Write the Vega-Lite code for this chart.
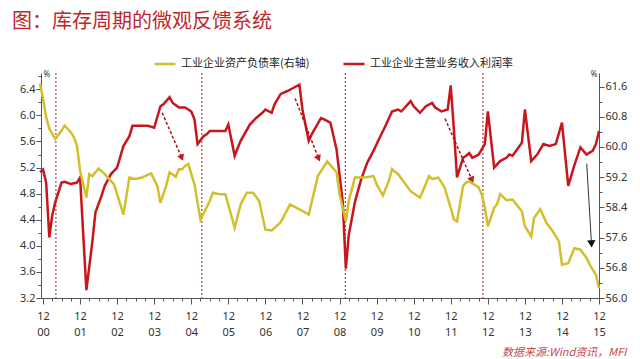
{
  "$schema": "https://vega.github.io/schema/vega-lite/v6.json",
  "width": 558,
  "height": 225,
  "autosize": {"type": "none"},
  "padding": {"left": 41, "top": 73, "right": 41, "bottom": 61},
  "background": "white",
  "config": {
    "view": {"stroke": null},
    "font": "Noto Sans",
    "axis": {"grid": false, "domainColor": "#555", "tickColor": "#555", "labelColor": "#333", "labelFontSize": 11, "labelFont": "Noto Sans", "domainWidth": 1, "labelOverlap": false}
  },
  "title": {"text": "图：库存周期的微观反馈系统", "anchor": "start", "frame": "group", "dx": -29, "offset": 20, "font": "Noto Sans CJK SC", "fontSize": 20, "fontWeight": "normal", "color": "#c0272d"},
  "datasets": {
    "margin": [
      {"date": "2000-11-01", "v": 5.13}, {"date": "2000-12-01", "v": 5.17}, {"date": "2001-01-01", "v": 4.97}, {"date": "2001-02-01", "v": 4.13},
      {"date": "2001-03-01", "v": 4.46}, {"date": "2001-04-01", "v": 4.67}, {"date": "2001-06-01", "v": 4.97}, {"date": "2001-07-01", "v": 4.98},
      {"date": "2001-09-01", "v": 4.95}, {"date": "2001-11-01", "v": 4.97}, {"date": "2001-12-01", "v": 5.05}, {"date": "2002-02-01", "v": 3.32},
      {"date": "2002-04-01", "v": 4.06}, {"date": "2002-05-01", "v": 4.51}, {"date": "2002-07-01", "v": 4.77}, {"date": "2002-08-01", "v": 4.92},
      {"date": "2002-10-01", "v": 5.10}, {"date": "2002-12-01", "v": 5.20}, {"date": "2003-02-01", "v": 5.53}, {"date": "2003-04-01", "v": 5.68},
      {"date": "2003-05-01", "v": 5.84}, {"date": "2003-08-01", "v": 5.84}, {"date": "2003-10-01", "v": 5.84}, {"date": "2003-12-01", "v": 5.81},
      {"date": "2004-02-01", "v": 6.14}, {"date": "2004-03-01", "v": 6.17}, {"date": "2004-05-01", "v": 6.28}, {"date": "2004-06-01", "v": 6.19},
      {"date": "2004-08-01", "v": 6.12}, {"date": "2004-10-01", "v": 6.12}, {"date": "2004-12-01", "v": 6.06}, {"date": "2005-01-01", "v": 5.94},
      {"date": "2005-02-01", "v": 5.56}, {"date": "2005-04-01", "v": 5.68}, {"date": "2005-05-01", "v": 5.71}, {"date": "2005-06-01", "v": 5.76},
      {"date": "2005-08-01", "v": 5.76}, {"date": "2005-11-01", "v": 5.76}, {"date": "2005-12-01", "v": 5.86}, {"date": "2006-02-01", "v": 5.38},
      {"date": "2006-04-01", "v": 5.61}, {"date": "2006-07-01", "v": 5.86}, {"date": "2006-09-01", "v": 5.96}, {"date": "2006-11-01", "v": 6.04},
      {"date": "2006-12-01", "v": 6.09}, {"date": "2007-02-01", "v": 6.04}, {"date": "2007-03-01", "v": 6.17}, {"date": "2007-05-01", "v": 6.33},
      {"date": "2007-07-01", "v": 6.37}, {"date": "2007-09-01", "v": 6.42}, {"date": "2007-11-01", "v": 6.47}, {"date": "2007-12-01", "v": 6.09},
      {"date": "2008-02-01", "v": 5.61}, {"date": "2008-03-01", "v": 5.71}, {"date": "2008-06-01", "v": 5.96}, {"date": "2008-07-01", "v": 5.94},
      {"date": "2008-09-01", "v": 5.89}, {"date": "2008-11-01", "v": 5.48}, {"date": "2009-01-01", "v": 4.67}, {"date": "2009-02-01", "v": 3.65},
      {"date": "2009-03-01", "v": 4.16}, {"date": "2009-05-01", "v": 4.67}, {"date": "2009-07-01", "v": 5.02}, {"date": "2009-09-01", "v": 5.28},
      {"date": "2009-11-01", "v": 5.46}, {"date": "2010-01-01", "v": 5.66}, {"date": "2010-03-01", "v": 5.85}, {"date": "2010-05-01", "v": 6.06},
      {"date": "2010-07-01", "v": 6.09}, {"date": "2010-08-01", "v": 6.06}, {"date": "2010-11-01", "v": 6.22}, {"date": "2010-12-01", "v": 6.14},
      {"date": "2011-02-01", "v": 6.04}, {"date": "2011-04-01", "v": 6.14}, {"date": "2011-06-01", "v": 6.19}, {"date": "2011-07-01", "v": 6.12},
      {"date": "2011-09-01", "v": 6.06}, {"date": "2011-11-01", "v": 6.09}, {"date": "2011-12-01", "v": 6.46}, {"date": "2012-01-01", "v": 5.79},
      {"date": "2012-02-01", "v": 5.05}, {"date": "2012-04-01", "v": 5.35}, {"date": "2012-05-01", "v": 5.38}, {"date": "2012-06-01", "v": 5.42},
      {"date": "2012-07-01", "v": 5.35}, {"date": "2012-09-01", "v": 5.40}, {"date": "2012-11-01", "v": 5.56}, {"date": "2012-12-01", "v": 6.06},
      {"date": "2013-02-01", "v": 5.20}, {"date": "2013-04-01", "v": 5.30}, {"date": "2013-06-01", "v": 5.35}, {"date": "2013-07-01", "v": 5.40},
      {"date": "2013-08-01", "v": 5.38}, {"date": "2013-11-01", "v": 5.58}, {"date": "2013-12-01", "v": 6.09}, {"date": "2014-02-01", "v": 5.30},
      {"date": "2014-04-01", "v": 5.40}, {"date": "2014-06-01", "v": 5.56}, {"date": "2014-08-01", "v": 5.53}, {"date": "2014-10-01", "v": 5.56},
      {"date": "2014-12-01", "v": 5.89}, {"date": "2015-02-01", "v": 4.92}, {"date": "2015-04-01", "v": 5.23}, {"date": "2015-06-01", "v": 5.51},
      {"date": "2015-08-01", "v": 5.40}, {"date": "2015-10-01", "v": 5.46}, {"date": "2015-11-01", "v": 5.56}, {"date": "2015-12-01", "v": 5.76}
    ],
    "ratio": [
      {"date": "2000-11-01", "v": 61.68}, {"date": "2000-12-01", "v": 61.28}, {"date": "2001-01-01", "v": 60.79}, {"date": "2001-02-01", "v": 60.48},
      {"date": "2001-04-01", "v": 60.21}, {"date": "2001-06-01", "v": 60.43}, {"date": "2001-07-01", "v": 60.57}, {"date": "2001-09-01", "v": 60.39},
      {"date": "2001-10-01", "v": 60.26}, {"date": "2001-11-01", "v": 60.03}, {"date": "2001-12-01", "v": 59.37}, {"date": "2002-02-01", "v": 58.66},
      {"date": "2002-03-01", "v": 59.28}, {"date": "2002-04-01", "v": 59.23}, {"date": "2002-06-01", "v": 59.43}, {"date": "2002-08-01", "v": 59.28},
      {"date": "2002-09-01", "v": 59.19}, {"date": "2002-11-01", "v": 59.01}, {"date": "2003-02-01", "v": 58.21}, {"date": "2003-04-01", "v": 59.19},
      {"date": "2003-06-01", "v": 59.15}, {"date": "2003-08-01", "v": 59.19}, {"date": "2003-11-01", "v": 59.30}, {"date": "2004-01-01", "v": 58.97},
      {"date": "2004-02-01", "v": 58.52}, {"date": "2004-04-01", "v": 59.01}, {"date": "2004-05-01", "v": 59.33}, {"date": "2004-07-01", "v": 59.21},
      {"date": "2004-08-01", "v": 59.41}, {"date": "2004-09-01", "v": 59.41}, {"date": "2004-10-01", "v": 59.50}, {"date": "2004-11-01", "v": 59.55},
      {"date": "2005-01-01", "v": 59.01}, {"date": "2005-03-01", "v": 58.08}, {"date": "2005-06-01", "v": 58.57}, {"date": "2005-07-01", "v": 58.79},
      {"date": "2005-09-01", "v": 58.75}, {"date": "2005-11-01", "v": 58.75}, {"date": "2006-01-01", "v": 58.17}, {"date": "2006-02-01", "v": 57.86},
      {"date": "2006-04-01", "v": 58.48}, {"date": "2006-06-01", "v": 58.79}, {"date": "2006-08-01", "v": 58.79}, {"date": "2006-10-01", "v": 58.57},
      {"date": "2006-12-01", "v": 57.81}, {"date": "2007-02-01", "v": 57.79}, {"date": "2007-05-01", "v": 58.01}, {"date": "2007-08-01", "v": 58.48},
      {"date": "2007-11-01", "v": 58.35}, {"date": "2008-02-01", "v": 58.21}, {"date": "2008-05-01", "v": 59.23}, {"date": "2008-08-01", "v": 59.62},
      {"date": "2008-11-01", "v": 59.33}, {"date": "2008-12-01", "v": 58.75}, {"date": "2009-02-01", "v": 58.03}, {"date": "2009-03-01", "v": 58.57},
      {"date": "2009-05-01", "v": 59.19}, {"date": "2009-08-01", "v": 59.19}, {"date": "2009-11-01", "v": 59.23}, {"date": "2009-12-01", "v": 59.01},
      {"date": "2010-02-01", "v": 58.72}, {"date": "2010-04-01", "v": 59.10}, {"date": "2010-05-01", "v": 59.41}, {"date": "2010-07-01", "v": 59.28},
      {"date": "2010-11-01", "v": 58.83}, {"date": "2011-02-01", "v": 58.66}, {"date": "2011-03-01", "v": 58.83}, {"date": "2011-05-01", "v": 59.23},
      {"date": "2011-06-01", "v": 59.15}, {"date": "2011-08-01", "v": 59.19}, {"date": "2011-10-01", "v": 58.93}, {"date": "2011-12-01", "v": 58.39},
      {"date": "2012-01-01", "v": 58.08}, {"date": "2012-02-01", "v": 58.03}, {"date": "2012-04-01", "v": 58.97}, {"date": "2012-05-01", "v": 59.06},
      {"date": "2012-06-01", "v": 59.09}, {"date": "2012-09-01", "v": 58.93}, {"date": "2012-10-01", "v": 58.75}, {"date": "2012-11-01", "v": 58.39},
      {"date": "2012-12-01", "v": 57.90}, {"date": "2013-02-01", "v": 58.39}, {"date": "2013-03-01", "v": 58.48}, {"date": "2013-04-01", "v": 58.75},
      {"date": "2013-06-01", "v": 58.59}, {"date": "2013-08-01", "v": 58.61}, {"date": "2013-11-01", "v": 58.30}, {"date": "2013-12-01", "v": 57.90},
      {"date": "2014-02-01", "v": 57.63}, {"date": "2014-03-01", "v": 58.12}, {"date": "2014-05-01", "v": 58.35}, {"date": "2014-07-01", "v": 57.99},
      {"date": "2014-09-01", "v": 57.77}, {"date": "2014-11-01", "v": 57.50}, {"date": "2014-12-01", "v": 56.88}, {"date": "2015-02-01", "v": 56.92},
      {"date": "2015-04-01", "v": 57.32}, {"date": "2015-06-01", "v": 57.28}, {"date": "2015-08-01", "v": 57.06}, {"date": "2015-09-01", "v": 56.88},
      {"date": "2015-11-01", "v": 56.61}, {"date": "2015-12-01", "v": 56.26}
    ],
    "cycles": [
      {"date": "2001-04-07"}, {"date": "2005-03-15"}, {"date": "2009-01-26"}, {"date": "2012-10-13"}
    ],
    "redArrows": [
      {"x0": "2004-02-18", "y0": 6.04, "x1": "2004-08-29", "y1": 5.35},
      {"x0": "2007-09-20", "y0": 6.26, "x1": "2008-05-08", "y1": 5.34},
      {"x0": "2011-10-06", "y0": 5.95, "x1": "2012-06-27", "y1": 5.01}
    ],
    "blackArrow": [
      {"x0": "2015-08-02", "y0": 5.26, "x1": "2015-09-18", "y1": 4.03}
    ]
  },
  "layer": [
    {
      "layer": [
        {
          "data": {"name": "cycles"},
          "mark": {"type": "rule", "color": "#9b2226", "strokeDash": [2, 2], "strokeWidth": 1},
          "encoding": {
            "x": {"field": "date", "type": "temporal", "scale": {"type": "utc", "domain": [{"year": 2000, "month": 11, "date": 11, "utc": true}, {"year": 2015, "month": 12, "date": 1, "utc": true}]}}
          }
        },
        {
          "data": {"name": "margin"},
          "mark": {"type": "line", "strokeWidth": 2.5},
          "encoding": {
            "x": {
              "field": "date", "type": "temporal",
              "scale": {"type": "utc", "domain": [{"year": 2000, "month": 11, "date": 11, "utc": true}, {"year": 2015, "month": 12, "date": 1, "utc": true}]},
              "axis": {
                "title": "数据来源:Wind资讯，MFI",
                "titleFont": "Noto Sans CJK SC", "titleFontSize": 11, "titleFontStyle": "italic", "titleFontWeight": "normal", "titleColor": "#c84a4a",
                "titleX": 585, "titleY": 57, "titleAlign": "right", "titleBaseline": "alphabetic", "titleAnchor": null,
                "tickCount": 200,
                "values": [
                  {"year": 2000, "month": 12, "date": 1, "utc": true},
                  {"year": 2001, "month": 3, "date": 1, "utc": true}, {"year": 2001, "month": 6, "date": 1, "utc": true}, {"year": 2001, "month": 9, "date": 1, "utc": true}, {"year": 2001, "month": 12, "date": 1, "utc": true},
                  {"year": 2002, "month": 3, "date": 1, "utc": true}, {"year": 2002, "month": 6, "date": 1, "utc": true}, {"year": 2002, "month": 9, "date": 1, "utc": true}, {"year": 2002, "month": 12, "date": 1, "utc": true},
                  {"year": 2003, "month": 3, "date": 1, "utc": true}, {"year": 2003, "month": 6, "date": 1, "utc": true}, {"year": 2003, "month": 9, "date": 1, "utc": true}, {"year": 2003, "month": 12, "date": 1, "utc": true},
                  {"year": 2004, "month": 3, "date": 1, "utc": true}, {"year": 2004, "month": 6, "date": 1, "utc": true}, {"year": 2004, "month": 9, "date": 1, "utc": true}, {"year": 2004, "month": 12, "date": 1, "utc": true},
                  {"year": 2005, "month": 3, "date": 1, "utc": true}, {"year": 2005, "month": 6, "date": 1, "utc": true}, {"year": 2005, "month": 9, "date": 1, "utc": true}, {"year": 2005, "month": 12, "date": 1, "utc": true},
                  {"year": 2006, "month": 3, "date": 1, "utc": true}, {"year": 2006, "month": 6, "date": 1, "utc": true}, {"year": 2006, "month": 9, "date": 1, "utc": true}, {"year": 2006, "month": 12, "date": 1, "utc": true},
                  {"year": 2007, "month": 3, "date": 1, "utc": true}, {"year": 2007, "month": 6, "date": 1, "utc": true}, {"year": 2007, "month": 9, "date": 1, "utc": true}, {"year": 2007, "month": 12, "date": 1, "utc": true},
                  {"year": 2008, "month": 3, "date": 1, "utc": true}, {"year": 2008, "month": 6, "date": 1, "utc": true}, {"year": 2008, "month": 9, "date": 1, "utc": true}, {"year": 2008, "month": 12, "date": 1, "utc": true},
                  {"year": 2009, "month": 3, "date": 1, "utc": true}, {"year": 2009, "month": 6, "date": 1, "utc": true}, {"year": 2009, "month": 9, "date": 1, "utc": true}, {"year": 2009, "month": 12, "date": 1, "utc": true},
                  {"year": 2010, "month": 3, "date": 1, "utc": true}, {"year": 2010, "month": 6, "date": 1, "utc": true}, {"year": 2010, "month": 9, "date": 1, "utc": true}, {"year": 2010, "month": 12, "date": 1, "utc": true},
                  {"year": 2011, "month": 3, "date": 1, "utc": true}, {"year": 2011, "month": 6, "date": 1, "utc": true}, {"year": 2011, "month": 9, "date": 1, "utc": true}, {"year": 2011, "month": 12, "date": 1, "utc": true},
                  {"year": 2012, "month": 3, "date": 1, "utc": true}, {"year": 2012, "month": 6, "date": 1, "utc": true}, {"year": 2012, "month": 9, "date": 1, "utc": true}, {"year": 2012, "month": 12, "date": 1, "utc": true},
                  {"year": 2013, "month": 3, "date": 1, "utc": true}, {"year": 2013, "month": 6, "date": 1, "utc": true}, {"year": 2013, "month": 9, "date": 1, "utc": true}, {"year": 2013, "month": 12, "date": 1, "utc": true},
                  {"year": 2014, "month": 3, "date": 1, "utc": true}, {"year": 2014, "month": 6, "date": 1, "utc": true}, {"year": 2014, "month": 9, "date": 1, "utc": true}, {"year": 2014, "month": 12, "date": 1, "utc": true},
                  {"year": 2015, "month": 3, "date": 1, "utc": true}, {"year": 2015, "month": 6, "date": 1, "utc": true}, {"year": 2015, "month": 9, "date": 1, "utc": true}, {"year": 2015, "month": 12, "date": 1, "utc": true}
                ],
                "labelExpr": "utcmonth(datum.value) == 11 ? [utcFormat(datum.value, '%m'), utcFormat(datum.value, '%y')] : ''",
                "labelOverlap": false, "labelFlush": false, "labelPadding": 6, "labelLineHeight": 16, "labelBaseline": "top",
                "tickSize": {"condition": {"test": "utcmonth(datum.value) == 11", "value": 6}, "value": 3}
              }
            },
            "y": {
              "field": "v", "type": "quantitative",
              "scale": {"domain": [3.2, 6.65], "nice": false, "zero": false},
              "axis": {
                "orient": "left",
                "tickCount": 200,
                "values": [3.2, 3.4, 3.6, 3.8, 4.0, 4.2, 4.4, 4.6, 4.8, 5.0, 5.2, 5.4, 5.6, 5.8, 6.0, 6.2, 6.4, 6.6],
                "labelExpr": "round(datum.value * 10) % 4 == 0 ? format(datum.value, '.1f') : ''",
                "labelOverlap": false,
                "tickSize": {"condition": {"test": "round(datum.value * 10) % 4 == 0", "value": 5}, "value": 3},
                "labelPadding": 1,
                "title": "%", "titleAngle": 0, "titleX": 2, "titleY": 3, "titleAlign": "left", "titleBaseline": "alphabetic",
                "titleFontSize": 8, "titleFontWeight": "normal", "titleColor": "#333", "titleFont": "Noto Sans"
              }
            },
            "color": {
              "datum": "工业企业主营业务收入利润率",
              "scale": {"domain": ["工业企业资产负债率(右轴)", "工业企业主营业务收入利润率"], "range": ["#d2bf2e", "#c8161d"]},
              "legend": {
                "orient": "none", "legendX": 112, "legendY": -21, "direction": "horizontal", "title": null,
                "symbolType": "stroke", "symbolSize": 441, "symbolStrokeWidth": 2.5,
                "labelFont": "Noto Sans CJK SC", "labelFontSize": 11, "labelColor": "#222", "labelOffset": 4, "columnPadding": 28, "labelLimit": 300
              }
            }
          }
        },
        {
          "data": {"name": "redArrows"},
          "mark": {"type": "rule", "color": "#a3161b", "strokeDash": [3, 2], "strokeWidth": 1.5},
          "encoding": {
            "x": {"field": "x0", "type": "temporal", "scale": {"type": "utc", "domain": [{"year": 2000, "month": 11, "date": 11, "utc": true}, {"year": 2015, "month": 12, "date": 1, "utc": true}]}},
            "x2": {"field": "x1"},
            "y": {"field": "y0", "type": "quantitative", "scale": {"domain": [3.2, 6.65], "nice": false, "zero": false}},
            "y2": {"field": "y1"}
          }
        },
        {
          "data": {"name": "redArrows"},
          "mark": {"type": "point", "shape": "triangle-down", "filled": true, "color": "#c8161d", "size": 55, "angle": -23, "opacity": 1},
          "encoding": {
            "x": {"field": "x1", "type": "temporal", "scale": {"type": "utc", "domain": [{"year": 2000, "month": 11, "date": 11, "utc": true}, {"year": 2015, "month": 12, "date": 1, "utc": true}]}},
            "y": {"field": "y1", "type": "quantitative", "scale": {"domain": [3.2, 6.65], "nice": false, "zero": false}}
          }
        },
        {
          "data": {"name": "blackArrow"},
          "mark": {"type": "rule", "color": "#333", "strokeWidth": 1},
          "encoding": {
            "x": {"field": "x0", "type": "temporal", "scale": {"type": "utc", "domain": [{"year": 2000, "month": 11, "date": 11, "utc": true}, {"year": 2015, "month": 12, "date": 1, "utc": true}]}},
            "x2": {"field": "x1"},
            "y": {"field": "y0", "type": "quantitative", "scale": {"domain": [3.2, 6.65], "nice": false, "zero": false}},
            "y2": {"field": "y1"}
          }
        },
        {
          "data": {"name": "blackArrow"},
          "mark": {"type": "point", "shape": "triangle-down", "filled": true, "color": "#111", "size": 70, "angle": -3, "opacity": 1},
          "encoding": {
            "x": {"field": "x1", "type": "temporal", "scale": {"type": "utc", "domain": [{"year": 2000, "month": 11, "date": 11, "utc": true}, {"year": 2015, "month": 12, "date": 1, "utc": true}]}},
            "y": {"field": "y1", "type": "quantitative", "scale": {"domain": [3.2, 6.65], "nice": false, "zero": false}}
          }
        }
      ]
    },
    {
      "layer": [
        {
          "data": {"name": "ratio"},
          "mark": {"type": "line", "strokeWidth": 2.5},
          "encoding": {
            "x": {"field": "date", "type": "temporal", "scale": {"type": "utc", "domain": [{"year": 2000, "month": 11, "date": 11, "utc": true}, {"year": 2015, "month": 12, "date": 1, "utc": true}]}},
            "y": {
              "field": "v", "type": "quantitative",
              "scale": {"domain": [56.0, 61.96], "nice": false, "zero": false},
              "axis": {
                "orient": "right",
                "tickCount": 200,
                "values": [56.0, 56.4, 56.8, 57.2, 57.6, 58.0, 58.4, 58.8, 59.2, 59.6, 60.0, 60.4, 60.8, 61.2, 61.6],
                "labelExpr": "round(datum.value * 10) % 8 == 0 ? format(datum.value, '.1f') : ''",
                "labelOverlap": false,
                "tickSize": {"condition": {"test": "round(datum.value * 10) % 8 == 0", "value": 5}, "value": 3},
                "labelPadding": 1,
                "title": "%", "titleAngle": 0, "titleX": -2, "titleY": 3, "titleAlign": "right", "titleBaseline": "alphabetic",
                "titleFontSize": 8, "titleFontWeight": "normal", "titleColor": "#333", "titleFont": "Noto Sans"
              }
            },
            "color": {"datum": "工业企业资产负债率(右轴)"}
          }
        }
      ]
    }
  ],
  "resolve": {"scale": {"y": "independent"}}
}
